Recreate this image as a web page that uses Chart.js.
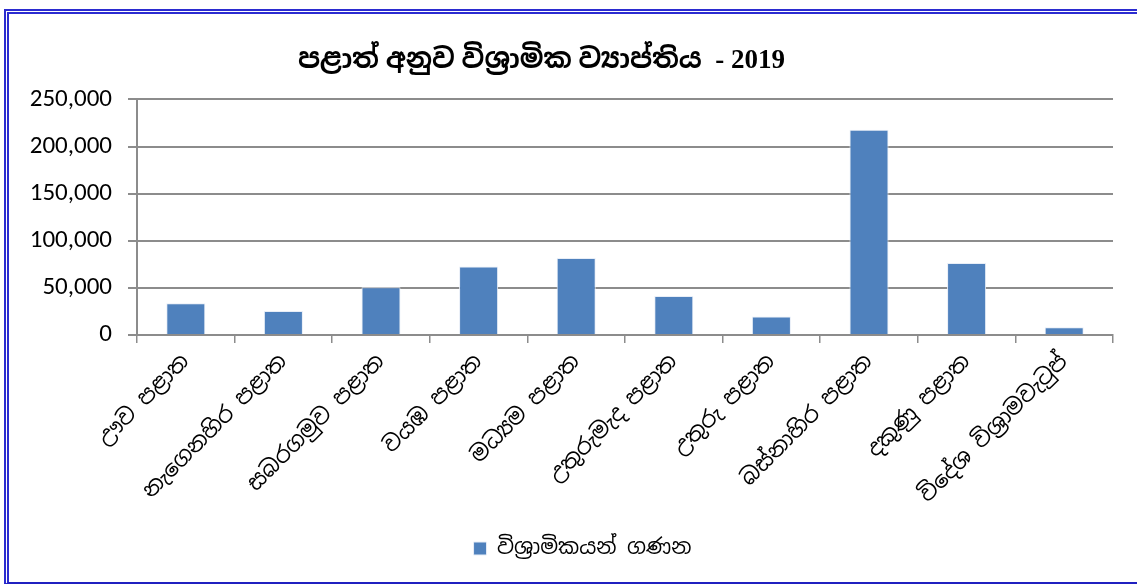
<!DOCTYPE html>
<html>
<head>
<meta charset="utf-8">
<script src="https://cdn.jsdelivr.net/npm/chart.js@4.4.0/dist/chart.umd.min.js"></script>
<style>
  html, body { margin: 0; padding: 0; background: #fff; overflow: hidden; }
  #wrap { position: absolute; left: 0; top: 0; width: 1137px; height: 586px; }
  #frame {
    position: absolute; left: 4px; top: 9px; width: 1200px; height: 568px;
    border-top: 5px double #2b2bd0; border-left: 5px double #2b2bd0;
    border-bottom: 2px solid #2020c0;
  }
</style>
</head>
<body>
<div id="wrap">
  <div id="frame"></div>
  <canvas id="pension_chart" width="1137" height="586"></canvas>
</div>
<script>
// data
const provinces = [
    'ඌව පළාත',
    'නැගෙනහිර පළාත',
    'සබරගමුව පළාත',
    'වයඹ පළාත',
    'මධ්‍යම පළාත',
    'උතුරුමැද පළාත',
    'උතුරු පළාත',
    'බස්නාහිර පළාත',
    'දකුණු පළාත',
    'විදේශ විශ්‍රාමවැටුප්'
];
const pensioners = [33700, 25500, 50700, 72700, 81600, 41500, 19500, 217700, 76300, 8200];
const chartTitle = 'පළාත් අනුව විශ්‍රාමික ව්‍යාප්තිය  - 2019';
const seriesLabel = 'විශ්‍රාමිකයන් ගණන';

const sinhalaFont = "'Iskoola Pota', 'Noto Sans Sinhala', 'Noto Sans', 'DejaVu Sans', sans-serif";

// title sits a bit left of centre in the original, legend a bit right
const boxShift = {
    id: 'boxShift',
    afterLayout: function(chart) {
        if (chart.titleBlock) {
            chart.titleBlock.right = chart.titleBlock.right - 30;
        }
        if (chart.legend) {
            chart.legend.left += 26;
            chart.legend.right += 26;
        }
    }
};

(function() {
    "use strict";
    var ctx = document.getElementById('pension_chart').getContext('2d');
    new Chart(ctx, {
        type: 'bar',
        data: {
            labels: provinces,
            datasets: [
                {
                    label: seriesLabel,
                    data: pensioners,
                    backgroundColor: '#4f81bd',
                    borderColor: '#e8eef7',
                    borderWidth: 1,
                    categoryPercentage: 1.0,
                    barPercentage: 0.4
                }
            ]
        },
        plugins: [boxShift],
        options: {
            responsive: false,
            animation: false,
            layout: {
                padding: { left: 0, right: 24, top: 0, bottom: 17 }
            },
            plugins: {
                title: {
                    display: true,
                    text: chartTitle,
                    color: '#000',
                    font: { family: "'Liberation Serif', " + sinhalaFont, size: 27, weight: 'bold' },
                    padding: { top: 45, bottom: 22 }
                },
                legend: {
                    position: 'bottom',
                    display: true,
                    labels: {
                        color: '#000',
                        boxWidth: 13,
                        boxHeight: 13,
                        padding: 12,
                        font: { family: sinhalaFont, size: 21 }
                    }
                },
                tooltip: { enabled: false }
            },
            scales: {
                x: {
                    afterFit: function(scale) { scale.height = 191; },
                    grid: {
                        display: true,
                        drawOnChartArea: false,
                        drawTicks: true,
                        tickLength: 8,
                        color: '#8c8c8c',
                        lineWidth: 1.5
                    },
                    border: { display: true, color: '#8c8c8c', width: 2 },
                    ticks: {
                        autoSkip: false,
                        maxRotation: 45,
                        minRotation: 45,
                        padding: 6,
                        color: '#000',
                        font: { family: sinhalaFont, size: 22 }
                    }
                },
                y: {
                    min: 0,
                    max: 250000,
                    afterFit: function(scale) { scale.width = 137; },
                    grid: {
                        color: '#8c8c8c',
                        lineWidth: 2,
                        drawTicks: true,
                        tickLength: 9
                    },
                    border: { display: true, color: '#8c8c8c', width: 2 },
                    ticks: {
                        stepSize: 50000,
                        padding: 16,
                        color: '#000',
                        font: { family: "Carlito, 'Liberation Sans', sans-serif", size: 25 },
                        callback: function(v) { return v.toLocaleString('en-US'); }
                    }
                }
            }
        }
    });
})();
</script>
</body>
</html>
